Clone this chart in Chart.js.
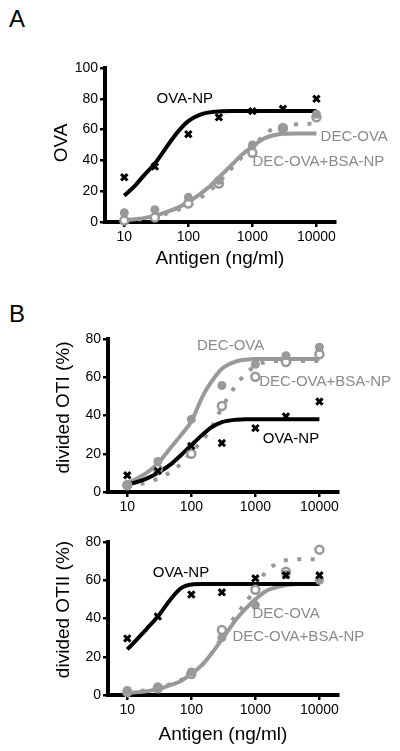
<!DOCTYPE html>
<html>
<head>
<meta charset="utf-8">
<script src="https://cdn.jsdelivr.net/npm/chart.js@4.4.1/dist/chart.umd.min.js"></script>
<style>
  body { margin: 0; background: #fff; width: 400px; height: 751px; position: relative; overflow: hidden; font-family: 'Liberation Sans', Arial, sans-serif; }
  .panel { position: absolute; left: 0; width: 400px; }
  .letter { position: absolute; left: 9px; font-size: 24px; line-height: 24px; color: #000; }
</style>
</head>
<body>
<div class="letter" style="top:7px">A</div>
<div class="letter" style="top:302px">B</div>
<div class="panel" style="top:40px;height:230px"><canvas id="chartA" width="400" height="230"></canvas></div>
<div class="panel" style="top:300px;height:215px"><canvas id="chartB" width="400" height="215"></canvas></div>
<div class="panel" style="top:515px;height:231px"><canvas id="chartC" width="400" height="231"></canvas></div>
<script>
// doses used in the experiment (ng/ml)
var antigen = [10, 30, 100, 300, 1000, 3000, 10000];
var fitDose = [10, 15, 20, 30, 50, 70, 100, 150, 200, 300, 500, 700, 1000, 1500, 2000, 3000, 5000, 10000];
var xTicks = [10, 100, 1000, 10000];

// panel A - OVA
var ovaNpA     = [29, 36, 57, 68, 72, 73.5, 80];
var decOvaA    = [6, 8, 16, 27, 50, 60, 70];
var decBsaA    = [1, 3, 12, 25, 45, 61, 68];
var ovaNpFitA  = [17, 24, 30, 38, 51, 59, 65.5, 69.5, 71, 71.8, 72, 72, 72, 72, 72, 72, 72, 72];
var decOvaFitA = [1, 1.8, 2.5, 4, 7, 9.5, 13, 18, 22, 29, 38, 44, 49, 54, 56, 57.3, 57.5, 57.5];
var decBsaFitA = [1, 1.5, 2, 3, 6, 8, 11, 15.5, 19, 26, 36, 42.5, 49, 56, 60, 62.5, 63.5, 64];

// panel B - divided OTI (%)
var ovaNpB     = [8.7, 11, 24, 25.6, 33.4, 39.5, 47.3];
var decOvaB    = [4, 16, 38, 55.7, 66.8, 71.3, 75.7];
var decBsaB    = [3.5, 12, 20, 45, 60.3, 68, 72];
var ovaNpFitB  = [3.8, 5.5, 7, 10, 15, 19.5, 24.5, 30, 33.5, 36.5, 37.8, 38, 38, 38, 38, 38, 38, 38];
var decOvaFitB = [4.7, 7.5, 10, 15, 24, 30, 37, 50, 57, 64.5, 68.3, 69.2, 69.5, 69.5, 69.5, 69.5, 69.5, 69.5];
var decBsaFitB = [3, 4, 5, 7, 11, 15, 21, 27, 33, 44, 56, 61.5, 66, 68, 68.5, 68.5, 68.5, 68.5];

// panel C - divided OTII (%)
var ovaNpC     = [29.6, 41, 52.5, 53.7, 61, 62.6, 62.6];
var decOvaC    = [2.4, 4.3, 12, 30, 47, 63, 60];
var decBsaC    = [1.5, 3.5, 11, 34, 55, 64.5, 76];
var ovaNpFitC  = [23.8, 30, 34.5, 41, 51, 56, 57.8, 58, 58, 58, 58, 58, 58, 58, 58, 58, 58, 58];
var decOvaFitC = [1, 1.5, 2, 3, 5.5, 7.5, 11, 16, 21, 29, 39.5, 45, 50, 54.5, 56, 57.5, 58, 58];
var decBsaFitC = [1, 2, 2.5, 3.5, 6, 8, 11, 16, 21, 30, 42, 48, 56, 65, 68, 70.5, 71, 71];

var GREY = '#999999';
var GREY_TEXT = '#8a8a8a';
var FONT = '"Liberation Sans", Arial, sans-serif';

function pts(xs, ys) {
  return xs.map(function (x, i) { return { x: x, y: ys[i] }; });
}

// series names next to the curves + the rotated y title
var seriesLabels = {
  id: 'seriesLabels',
  afterDatasetsDraw: function (chart, args, opts) {
    var ctx = chart.ctx, xs = chart.scales.x, ys = chart.scales.y, area = chart.chartArea;
    ctx.save();
    ctx.font = '15px ' + FONT;
    ctx.textAlign = 'center';
    ctx.textBaseline = 'middle';
    opts.items.forEach(function (l) {
      ctx.fillStyle = l.color;
      ctx.fillText(l.text, xs.getPixelForValue(l.x), ys.getPixelForValue(l.y));
    });
    ctx.translate(opts.titleX, (area.top + area.bottom) / 2 + opts.titleShift);
    ctx.rotate(-Math.PI / 2);
    ctx.fillStyle = '#000';
    ctx.font = '19px ' + FONT;
    ctx.fillText(opts.title, 0, 0);
    ctx.restore();
  }
};

function makeChart(id, p) {
  var ctx = document.getElementById(id).getContext('2d');
  return new Chart(ctx, {
    type: 'scatter',
    data: {
      datasets: [
        { data: pts(antigen, p.ovaNp), showLine: false, pointStyle: 'crossRot', radius: 4.5,
          borderColor: '#000', backgroundColor: '#000', borderWidth: 3, order: 0, clip: false },
        { data: pts(antigen, p.decOva), showLine: false, pointStyle: 'circle', radius: 4.5,
          borderColor: GREY, backgroundColor: GREY, borderWidth: 0, order: 1, clip: false },
        { data: pts(antigen, p.decBsa), showLine: false, pointStyle: 'circle', radius: 4,
          borderColor: GREY, backgroundColor: '#fff', borderWidth: 2.5, order: 2, clip: false },
        { data: pts(fitDose, p.ovaNpFit), showLine: true, pointRadius: 0, borderColor: '#000',
          borderWidth: 4, cubicInterpolationMode: 'monotone', order: 3, clip: false },
        { data: pts(fitDose, p.decOvaFit), showLine: true, pointRadius: 0, borderColor: GREY,
          borderWidth: 4, cubicInterpolationMode: 'monotone', order: 4, clip: false },
        { data: pts(fitDose, p.decBsaFit), showLine: true, pointRadius: 0, borderColor: GREY,
          borderWidth: 4, borderDash: [4, 9.5], borderCapStyle: 'butt',
          cubicInterpolationMode: 'monotone', order: 5, clip: false }
      ]
    },
    options: {
      responsive: false,
      animation: false,
      events: [],
      layout: { padding: { left: 0, right: 400 - p.right, top: p.top, bottom: 0 } },
      plugins: {
        legend: { display: false },
        tooltip: { enabled: false },
        seriesLabels: { items: p.labels, title: p.yTitle, titleX: p.yTitleX, titleShift: p.yTitleShift }
      },
      scales: {
        x: {
          type: 'logarithmic', min: 5, max: 19500,
          afterBuildTicks: function (s) { s.ticks = xTicks.map(function (v) { return { value: v }; }); },
          afterFit: function (s) { s.height = p.xHeight; },
          ticks: { color: '#000', font: { size: 14, family: FONT }, padding: 2, maxRotation: 0,
                   callback: function (v) { return String(v); } },
          grid: { display: true, drawOnChartArea: false, drawTicks: true, tickLength: 5, color: '#000', lineWidth: 2.5 },
          border: { display: true, color: '#000', width: 4 },
          title: { display: p.xTitle, text: 'Antigen (ng/ml)', color: '#000',
                   font: { size: 19, family: FONT }, padding: 0 }
        },
        y: {
          min: 0, max: p.yMax,
          afterFit: function (s) { s.width = p.left; },
          ticks: { stepSize: 20, color: '#000', font: { size: 14, family: FONT }, padding: 2 },
          grid: { display: true, drawOnChartArea: false, drawTicks: true, tickLength: 5, color: '#000', lineWidth: 2.5 },
          border: { display: true, color: '#000', width: 4 }
        }
      }
    },
    plugins: [seriesLabels]
  });
}

makeChart('chartA', {
  ovaNp: ovaNpA, decOva: decOvaA, decBsa: decBsaA,
  ovaNpFit: ovaNpFitA, decOvaFit: decOvaFitA, decBsaFit: decBsaFitA,
  yMax: 100, yTitle: 'OVA', yTitleX: 62, yTitleShift: -2,
  xTitle: true, left: 105, right: 335, top: 28, xHeight: 48,
  labels: [
    { text: 'OVA-NP', x: 88, y: 80, color: '#000' },
    { text: 'DEC-OVA', x: 38900, y: 55, color: GREY_TEXT },
    { text: 'DEC-OVA+BSA-NP', x: 10700, y: 39, color: GREY_TEXT }
  ]
});

makeChart('chartB', {
  ovaNp: ovaNpB, decOva: decOvaB, decBsa: decBsaB,
  ovaNpFit: ovaNpFitB, decOvaFit: decOvaFitB, decBsaFit: decBsaFitB,
  yMax: 80, yTitle: 'divided OTI (%)', yTitleX: 63.5, yTitleShift: -8,
  xTitle: false, left: 108, right: 338, top: 39, xHeight: 23,
  labels: [
    { text: 'DEC-OVA', x: 410, y: 76.3, color: GREY_TEXT },
    { text: 'DEC-OVA+BSA-NP', x: 12300, y: 57.5, color: GREY_TEXT },
    { text: 'OVA-NP', x: 3600, y: 28, color: '#000' }
  ]
});

makeChart('chartC', {
  ovaNp: ovaNpC, decOva: decOvaC, decBsa: decBsaC,
  ovaNpFit: ovaNpFitC, decOvaFit: decOvaFitC, decBsaFit: decBsaFitC,
  yMax: 80, yTitle: 'divided OTII (%)', yTitleX: 63.5, yTitleShift: -9,
  xTitle: true, left: 108, right: 338, top: 27, xHeight: 51,
  labels: [
    { text: 'OVA-NP', x: 69, y: 63.8, color: '#000' },
    { text: 'DEC-OVA', x: 3020, y: 42.3, color: GREY_TEXT },
    { text: 'DEC-OVA+BSA-NP', x: 4680, y: 30.3, color: GREY_TEXT }
  ]
});
</script>
</body>
</html>
